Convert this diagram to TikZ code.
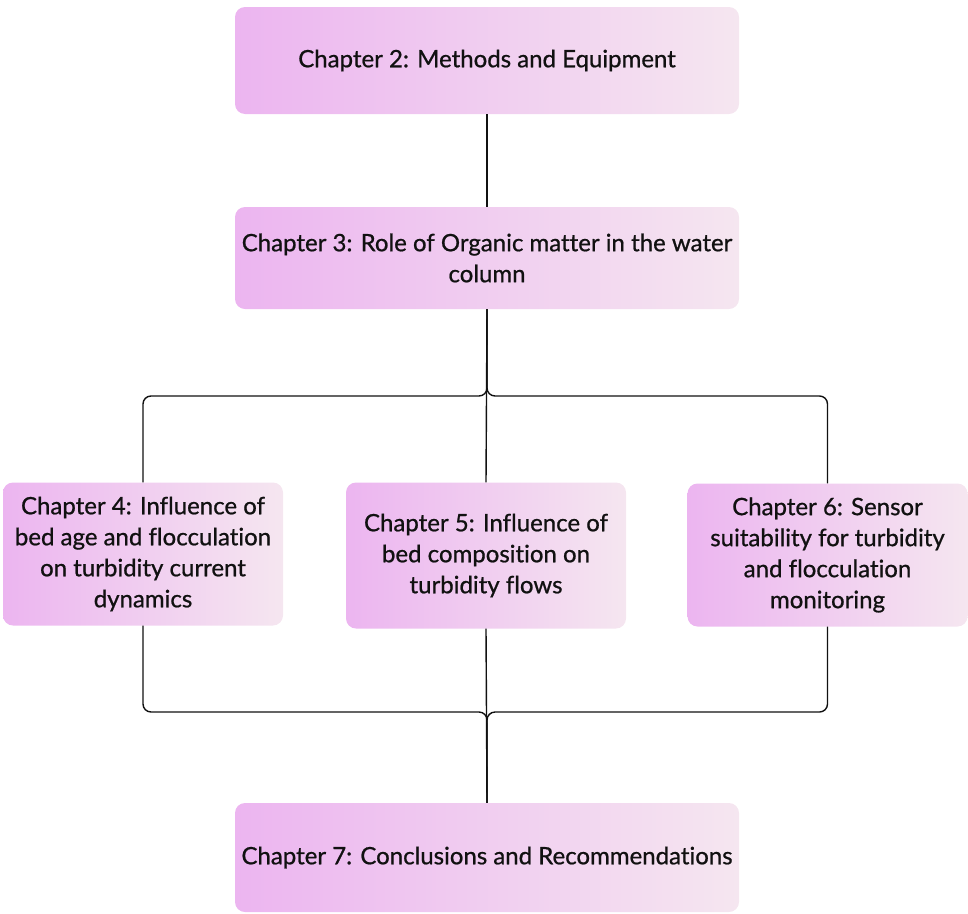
\documentclass[tikz,border=0pt]{standalone}
\usepackage{fontspec}
\setmainfont{Lato}[FakeBold=0.8,Ligatures=NoCommon]
\usetikzlibrary{calc}
\definecolor{ink}{HTML}{111111}
\definecolor{lilac}{HTML}{ECB5F0}
\definecolor{blush}{HTML}{F5E6F0}
\newcommand{\boxtxt}{\fontsize{24}{31}\selectfont}

\begin{document}
\begin{tikzpicture}[x=1pt,y=-1pt,
  chap/.style={rectangle,rounded corners=10pt,inner sep=0,align=center,
    left color=lilac,right color=blush,text=ink,font=\boxtxt},
  wide/.style={chap,minimum width=504pt},
  narrow/.style={chap,minimum width=280pt,minimum height=143pt},
  link/.style={ink,line width=1.4pt,rounded corners=8pt}]
\useasboundingbox (0,0) rectangle (968,913);
\node[wide,minimum height=107pt] (ch2) at (487,60.5) {Chapter 2: Methods and Equipment};
\node[wide,minimum height=102pt] (ch3) at (487,258) {Chapter 3: Role of Organic matter in the water\\column};
\node[narrow] (ch4) at (143,554) {Chapter 4: Influence of\\bed age and flocculation\\on turbidity current\\dynamics};
\node[narrow,minimum height=146pt] (ch5) at (486,555.5) {Chapter 5: Influence of\\bed composition on\\turbidity flows};
\node[narrow] (ch6) at (827.5,555) {Chapter 6: Sensor\\suitability for turbidity\\and flocculation\\monitoring};
\node[wide,minimum height=109pt] (ch7) at (487,857.5) {Chapter 7: Conclusions and Recommendations};
\coordinate (split) at (487,396);
\coordinate (merge) at (487,712);
\draw[link] (ch2.south) -- (ch3.north);
\draw[link] (ch3.south) -- (split) -| (ch4.north);
\draw[link] (ch3.south) -- (split) -| (ch6.north);
\draw[link] (ch3.south) -- (ch5.north);
\draw[link] (ch4.south) |- (merge) -- (ch7.north);
\draw[link] (ch6.south) |- (merge) -- (ch7.north);
\draw[link] (ch5.south) -- (ch7.north);
\end{tikzpicture}
\end{document}
